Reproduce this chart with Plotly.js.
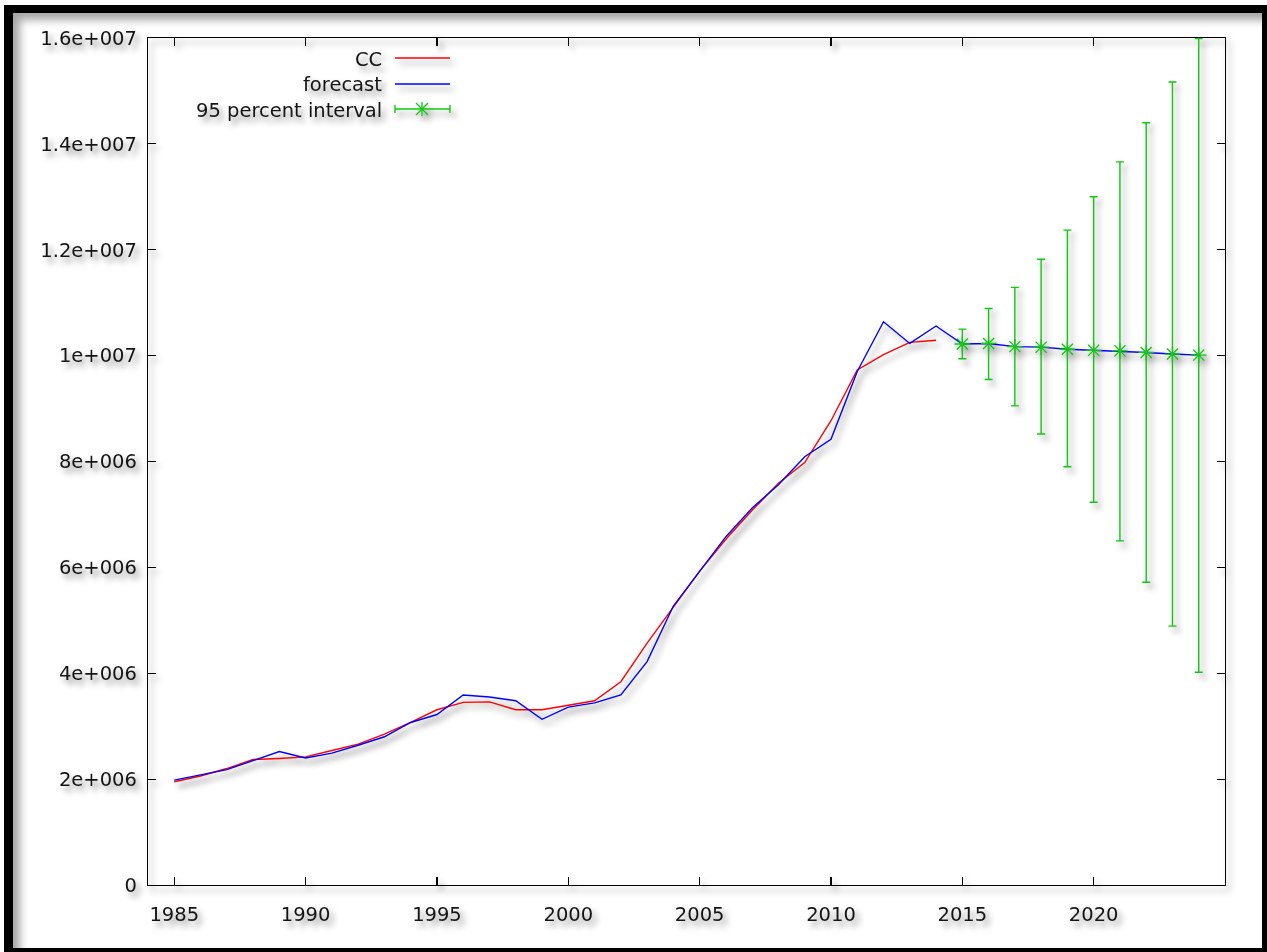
<!DOCTYPE html>
<html>
<head>
<meta charset="utf-8">
<script src="https://cdn.plot.ly/plotly-3.0.1.min.js"></script>
<style>
  html, body { margin: 0; padding: 0; background: #ffffff; width: 1267px; height: 952px; overflow: hidden; }
  #frame { position: absolute; left: 4px; top: 5px; width: 1263px; height: 947px; background: #000000; }
  #sheet { position: absolute; left: 9px; top: 8px; width: 1249px; height: 935px; background: #ffffff;
           box-shadow: inset 7px 7px 9px rgba(0,0,0,0.35); }
  #chart { position: absolute; left: 0; top: 0; width: 1267px; height: 952px;
           filter: drop-shadow(4px 5px 3px rgba(0,0,0,0.45)); }
</style>
</head>
<body>
<div id="frame"><div id="sheet"></div></div>
<div id="chart"></div>
<script>
// Observed series, 1985-2014
const ccYears = [1985, 1986, 1987, 1988, 1989, 1990, 1991, 1992, 1993, 1994,
                 1995, 1996, 1997, 1998, 1999, 2000, 2001, 2002, 2003, 2004,
                 2005, 2006, 2007, 2008, 2009, 2010, 2011, 2012, 2013, 2014];
const ccValues = [1.95e6, 2.06e6, 2.20e6, 2.37e6, 2.39e6, 2.42e6, 2.54e6, 2.66e6, 2.85e6, 3.07e6,
                  3.31e6, 3.45e6, 3.46e6, 3.31e6, 3.31e6, 3.39e6, 3.48e6, 3.84e6, 4.57e6, 5.25e6,
                  5.93e6, 6.53e6, 7.08e6, 7.59e6, 7.98e6, 8.77e6, 9.73e6, 10.02e6, 10.25e6, 10.29e6];

// Fitted values and out-of-sample forecast, 1985-2024
const forecastYears = [1985, 1986, 1987, 1988, 1989, 1990, 1991, 1992, 1993, 1994,
                       1995, 1996, 1997, 1998, 1999, 2000, 2001, 2002, 2003, 2004,
                       2005, 2006, 2007, 2008, 2009, 2010, 2011, 2012, 2013, 2014,
                       2015, 2016, 2017, 2018, 2019, 2020, 2021, 2022, 2023, 2024];
const forecastValues = [1.98e6, 2.08e6, 2.18e6, 2.35e6, 2.52e6, 2.40e6, 2.49e6, 2.64e6, 2.80e6, 3.07e6,
                        3.22e6, 3.59e6, 3.55e6, 3.48e6, 3.13e6, 3.36e6, 3.44e6, 3.59e6, 4.22e6, 5.27e6,
                        5.93e6, 6.58e6, 7.12e6, 7.56e6, 8.09e6, 8.42e6, 9.70e6, 10.64e6, 10.23e6, 10.56e6,
                        10.22e6, 10.23e6, 10.17e6, 10.16e6, 10.12e6, 10.10e6, 10.09e6, 10.06e6, 10.03e6, 10.01e6];

// 95 percent interval around the forecast, 2015-2024
const intervalYears = [2015, 2016, 2017, 2018, 2019, 2020, 2021, 2022, 2023, 2024];
const intervalMid   = [10.22e6, 10.23e6, 10.17e6, 10.16e6, 10.12e6, 10.10e6, 10.09e6, 10.06e6, 10.03e6, 10.01e6];
const intervalLow   = [9.94e6, 9.55e6, 9.05e6, 8.52e6, 7.90e6, 7.23e6, 6.50e6, 5.72e6, 4.89e6, 4.02e6];
const intervalHigh  = [10.50e6, 10.89e6, 11.29e6, 11.82e6, 12.37e6, 13.00e6, 13.66e6, 14.40e6, 15.17e6, 15.99e6];

// Axis ticks
const xTickVals = [1985, 1990, 1995, 2000, 2005, 2010, 2015, 2020];
const yTickVals = [0, 2e6, 4e6, 6e6, 8e6, 10e6, 12e6, 14e6, 16e6];
const yTickText = ['0', '2e+006', '4e+006', '6e+006', '8e+006', '1e+007', '1.2e+007', '1.4e+007', '1.6e+007'];

// Legend entries
const legendLabels = ['CC', 'forecast', '95 percent interval'];

const RED = '#ff0000', BLUE = '#0000ff', GREEN = '#10c810';
const FONT = 'DejaVu Sans, Verdana, sans-serif';
const TEXT = '#141414';
const FS = 19.5;

const traces = [
  { x: ccYears, y: ccValues, type: 'scatter', mode: 'lines', name: legendLabels[0],
    line: { color: RED, width: 1.4 }, hoverinfo: 'skip' },
  { x: forecastYears, y: forecastValues, type: 'scatter', mode: 'lines', name: legendLabels[1],
    line: { color: BLUE, width: 1.4 }, hoverinfo: 'skip' },
  { x: intervalYears, y: intervalMid, type: 'scatter', mode: 'markers', name: legendLabels[2],
    marker: { symbol: 'asterisk-open', size: 13, color: GREEN, line: { color: GREEN, width: 1.3 } },
    error_y: { type: 'data', symmetric: false,
               array: intervalHigh.map((h, i) => h - intervalMid[i]),
               arrayminus: intervalMid.map((m, i) => m - intervalLow[i]),
               color: GREEN, thickness: 1.4, width: 4 },
    cliponaxis: false, hoverinfo: 'skip' }
];

// Plot-area geometry (pixels) used to place the legend box
const PL = 148, PT = 38, PR = 1225, PB = 885;
const px = v => (v - PL) / (PR - PL);
const py = v => (PB - v) / (PB - PT);

const rowY = [58, 84, 109];
const sampleX0 = 395, sampleX1 = 450, textRight = 384;

const legendShapes = [
  { type: 'line', xref: 'paper', yref: 'paper', x0: px(sampleX0), x1: px(sampleX1), y0: py(rowY[0]), y1: py(rowY[0]),
    line: { color: RED, width: 1.4 } },
  { type: 'line', xref: 'paper', yref: 'paper', x0: px(sampleX0), x1: px(sampleX1), y0: py(rowY[1]), y1: py(rowY[1]),
    line: { color: BLUE, width: 1.4 } },
  { type: 'line', xref: 'paper', yref: 'paper', x0: px(sampleX0), x1: px(sampleX1), y0: py(rowY[2]), y1: py(rowY[2]),
    line: { color: GREEN, width: 1.4 } },
  { type: 'line', xref: 'paper', yref: 'paper', x0: px(sampleX0), x1: px(sampleX0), y0: py(rowY[2] - 4), y1: py(rowY[2] + 4),
    line: { color: GREEN, width: 1.4 } },
  { type: 'line', xref: 'paper', yref: 'paper', x0: px(sampleX1), x1: px(sampleX1), y0: py(rowY[2] - 4), y1: py(rowY[2] + 4),
    line: { color: GREEN, width: 1.4 } },
  // asterisk marker of the interval sample
  { type: 'line', xref: 'paper', yref: 'paper', x0: px(422), x1: px(422), y0: py(rowY[2] - 7), y1: py(rowY[2] + 7),
    line: { color: GREEN, width: 1.3 } },
  { type: 'line', xref: 'paper', yref: 'paper', x0: px(416), x1: px(428), y0: py(rowY[2] - 6), y1: py(rowY[2] + 6),
    line: { color: GREEN, width: 1.3 } },
  { type: 'line', xref: 'paper', yref: 'paper', x0: px(416), x1: px(428), y0: py(rowY[2] + 6), y1: py(rowY[2] - 6),
    line: { color: GREEN, width: 1.3 } }
];

const legendText = legendLabels.map((t, i) => ({
  text: t, xref: 'paper', yref: 'paper', x: px(textRight), y: py(rowY[i] + 1),
  xanchor: 'right', yanchor: 'middle', showarrow: false,
  font: { family: FONT, size: FS, color: TEXT }
}));

const axisCommon = {
  showgrid: false, zeroline: false,
  showline: true, linecolor: '#000000', linewidth: 1.2, mirror: 'ticks',
  ticks: 'inside', ticklen: 8, tickwidth: 1.2, tickcolor: '#000000',
  tickfont: { family: FONT, size: FS, color: TEXT }
};

const layout = {
  width: 1267, height: 952,
  margin: { l: PL, t: PT, r: 1267 - PR, b: 952 - PB },
  paper_bgcolor: 'rgba(0,0,0,0)', plot_bgcolor: 'rgba(0,0,0,0)',
  showlegend: false,
  xaxis: Object.assign({}, axisCommon, {
    range: [1984, 2025], tickmode: 'array', tickvals: xTickVals,
    ticktext: xTickVals.map(String), ticklabelstandoff: 11
  }),
  yaxis: Object.assign({}, axisCommon, {
    range: [0, 1.6e7], tickmode: 'array', tickvals: yTickVals, ticktext: yTickText,
    ticklabelstandoff: 6
  }),
  shapes: legendShapes,
  annotations: legendText
};

Plotly.newPlot('chart', traces, layout, { staticPlot: true, displayModeBar: false });
</script>
</body>
</html>
